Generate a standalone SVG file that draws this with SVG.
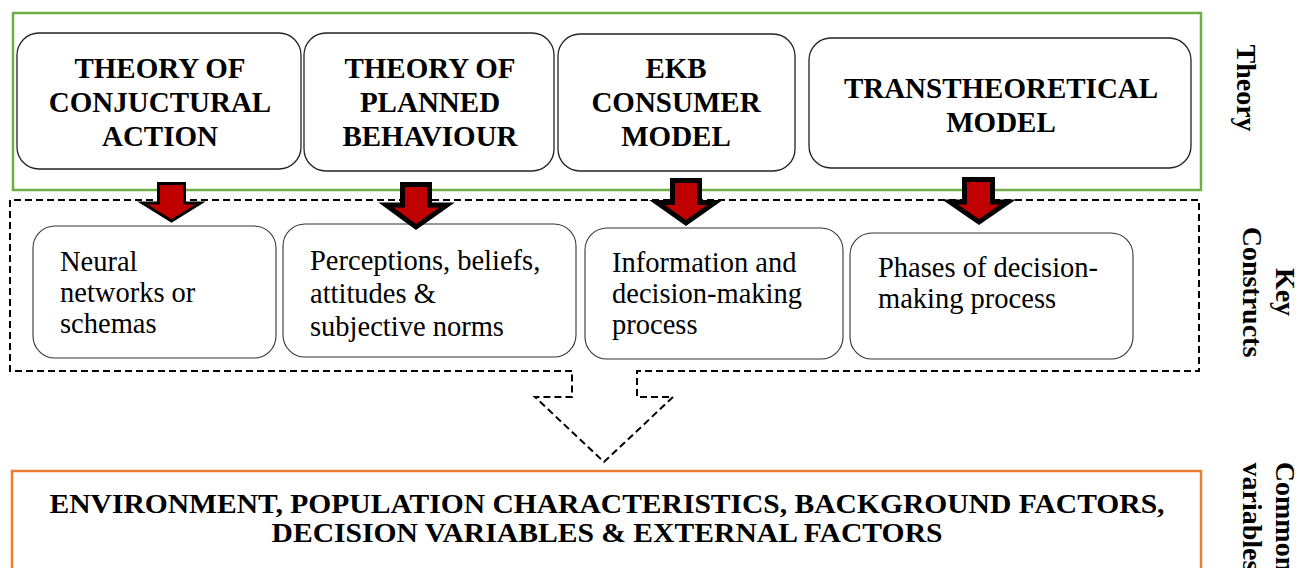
<svg xmlns="http://www.w3.org/2000/svg" width="1311" height="568" viewBox="0 0 1311 568">
  <style>
    .bg { fill: #ffffff; }
    .theory-frame { fill: none; stroke: #70ad47; stroke-width: 2.5; }
    .common-frame { fill: none; stroke: #ed7d31; stroke-width: 2.5; }
    .construct-frame { fill: none; stroke: #000000; stroke-width: 2; stroke-dasharray: 7 4; }
    .theory-box { fill: #ffffff; stroke: #222222; stroke-width: 1.3; }
    .construct-box { fill: #ffffff; stroke: #333333; stroke-width: 1.1; }
    .arrow { fill: #c00000; stroke: #000000; stroke-linejoin: miter; }
    .title { font-family: "Liberation Serif", "Times New Roman", serif; font-weight: bold; font-size: 29px; fill: #000000; text-anchor: middle; }
    .body { font-family: "Liberation Serif", "Times New Roman", serif; font-size: 28.5px; fill: #000000; }
    .side { font-family: "Liberation Serif", "Times New Roman", serif; font-weight: bold; font-size: 28px; fill: #000000; text-anchor: middle; }
    .common { font-family: "Liberation Serif", "Times New Roman", serif; font-weight: bold; font-size: 28px; fill: #000000; text-anchor: middle; }
  </style>

  <rect class="bg" x="0" y="0" width="1311" height="568"/>

  <!-- Layer frames -->
  <g id="theory-layer">
    <rect class="theory-frame" x="13" y="13" width="1188" height="177"/>
  </g>
  <g id="common-layer">
    <rect class="common-frame" x="12" y="471" width="1189" height="130"/>
    <text class="common" x="607" y="513" textLength="1115" lengthAdjust="spacingAndGlyphs">ENVIRONMENT, POPULATION CHARACTERISTICS, BACKGROUND FACTORS,</text>
    <text class="common" x="607" y="542" textLength="671" lengthAdjust="spacingAndGlyphs">DECISION VARIABLES &amp; EXTERNAL FACTORS</text>
  </g>

  <!-- Theory boxes -->
  <g id="theory-conjunctural">
    <rect class="theory-box" x="17" y="33" width="284" height="136" rx="22"/>
    <text class="title" x="160" y="78">THEORY OF</text>
    <text class="title" x="160" y="112">CONJUCTURAL</text>
    <text class="title" x="160" y="146">ACTION</text>
  </g>
  <g id="theory-planned">
    <rect class="theory-box" x="304" y="33" width="250" height="138" rx="22"/>
    <text class="title" x="430" y="78">THEORY OF</text>
    <text class="title" x="430" y="112">PLANNED</text>
    <text class="title" x="430" y="146">BEHAVIOUR</text>
  </g>
  <g id="ekb-model">
    <rect class="theory-box" x="558" y="34" width="237" height="137" rx="22"/>
    <text class="title" x="676" y="78">EKB</text>
    <text class="title" x="676" y="112">CONSUMER</text>
    <text class="title" x="676" y="146">MODEL</text>
  </g>
  <g id="transtheoretical-model">
    <rect class="theory-box" x="809" y="38" width="382" height="130" rx="22"/>
    <text class="title" x="1001" y="98">TRANSTHEORETICAL</text>
    <text class="title" x="1001" y="132">MODEL</text>
  </g>

  <!-- Key construct boxes -->
  <g id="construct-schemas">
    <rect class="construct-box" x="33" y="226" width="243" height="132" rx="22"/>
    <text class="body" x="60" y="271">Neural</text>
    <text class="body" x="60" y="302">networks or</text>
    <text class="body" x="60" y="333">schemas</text>
  </g>
  <g id="construct-perceptions">
    <rect class="construct-box" x="283" y="224" width="293" height="133" rx="22"/>
    <text class="body" x="310" y="270">Perceptions, beliefs,</text>
    <text class="body" x="310" y="303">attitudes &amp;</text>
    <text class="body" x="310" y="336">subjective norms</text>
  </g>
  <g id="construct-information">
    <rect class="construct-box" x="585" y="228" width="258" height="131" rx="22"/>
    <text class="body" x="612" y="272">Information and</text>
    <text class="body" x="612" y="303">decision-making</text>
    <text class="body" x="612" y="334">process</text>
  </g>
  <g id="construct-phases">
    <rect class="construct-box" x="850" y="233" width="283" height="126" rx="22"/>
    <text class="body" x="878" y="277">Phases of decision-</text>
    <text class="body" x="878" y="308">making process</text>
  </g>

  <!-- Side labels -->
  <g id="label-theory">
    <text class="side" transform="translate(1237 88) rotate(90)">Theory</text>
  </g>
  <g id="label-constructs">
    <text class="side" transform="translate(1276 292) rotate(90)">Key</text>
    <text class="side" transform="translate(1243 292) rotate(90)">Constructs</text>
  </g>
  <g id="label-common">
    <text class="side" transform="translate(1276 517) rotate(90)">Common</text>
    <text class="side" transform="translate(1243 517) rotate(90)">variables</text>
  </g>

  <!-- Connectors -->
  <g id="connectors">
    <!-- key constructs frame with hollow arrow into common variables -->
    <path class="construct-frame" d="M572 371 L10 371 L10 200 L1199 200 L1199 371 L637 371 L637 397 L673 397 L604 462 L535 397 L572 397 Z"/>
    <!-- theory to construct arrows -->
    <polygon class="arrow" stroke-width="3" points="158.5,183.5 184.5,183.5 184.5,203 200.5,203 171.5,221 142.5,203 158.5,203"/>
    <polygon class="arrow" stroke-width="5" points="402.5,184.5 429.5,184.5 429.5,205 447,205 416,227 386,205 402.5,205"/>
    <polygon class="arrow" stroke-width="5" points="672.5,180.5 699.5,180.5 699.5,202.5 715,202.5 686,223 657,202.5 672.5,202.5"/>
    <polygon class="arrow" stroke-width="5" points="964.5,179.5 992.5,179.5 992.5,202 1008,202 979,222 950,202 964.5,202"/>
  </g>
</svg>
